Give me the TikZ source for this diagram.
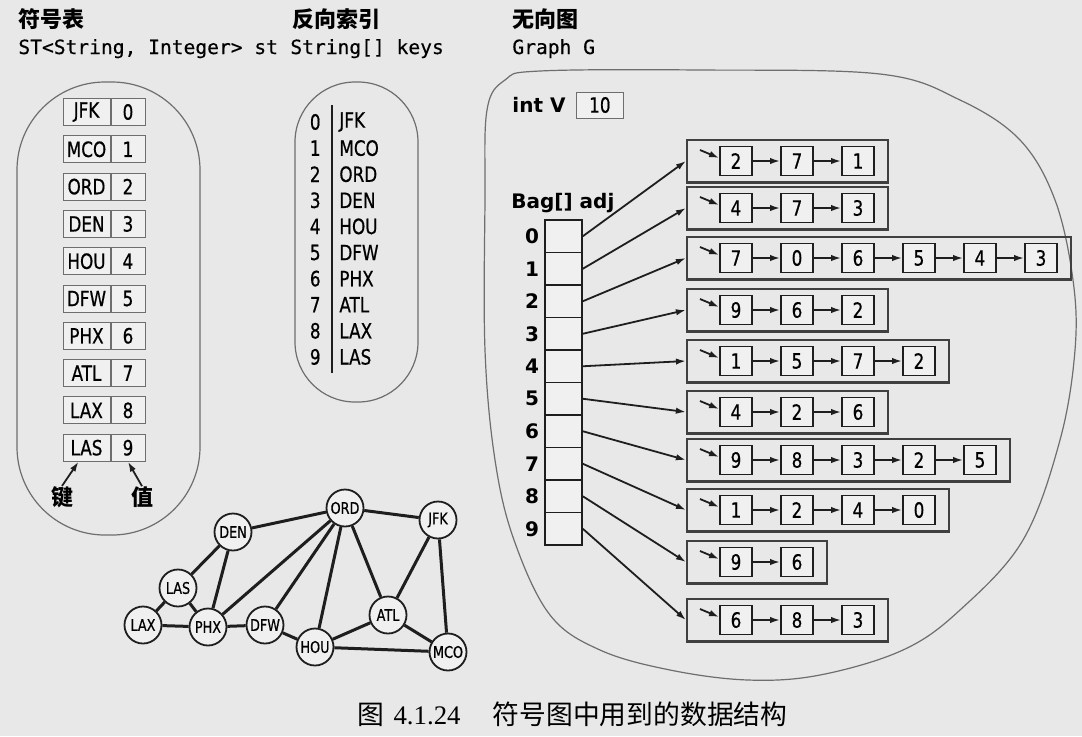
\documentclass[tikz,border=0pt]{standalone}
\usepackage{fontspec}
\usepackage{tikz}
\usetikzlibrary{positioning}
\usetikzlibrary{fit}
\usetikzlibrary{arrows.meta}

\newfontfamily\boxfont{DejaVu Sans}[FakeStretch=0.8, FakeBold=0.6]
\newfontfamily\plainfont{DejaVu Sans}
\newfontfamily\codefont{DejaVu Sans Mono}[FakeBold=0.4]
\newfontfamily\cjkfont{Noto Sans CJK SC}
\newfontfamily\capfont{Liberation Serif}

\definecolor{paper}{RGB}{232,232,232}
\definecolor{ink}{RGB}{30,30,30}
\definecolor{rim}{RGB}{110,110,110}
\definecolor{cellfill}{RGB}{240,240,240}

\tikzset{
  keycell/.style={draw=rim, fill=cellfill, line width=0.5pt, inner sep=0pt,
    minimum width=23.5pt, minimum height=13.5pt, font=\boxfont\fontsize{10.5}{12}\selectfont},
  valcell/.style={keycell, minimum width=17pt},
  idxtext/.style={inner sep=0pt, font=\boxfont\fontsize{10.5}{12}\selectfont},
  title/.style={inner sep=0pt, anchor=base west, font=\cjkfont\bfseries\fontsize{11}{13}\selectfont},
  taglbl/.style={inner sep=0pt, font=\cjkfont\bfseries\fontsize{11}{13}\selectfont},
  code/.style={inner sep=0pt, anchor=base west, font=\codefont\fontsize{9.8}{12}\selectfont},
  boldlbl/.style={inner sep=0pt, font=\plainfont\bfseries\fontsize{10}{12}\selectfont},
  arrcell/.style={draw=ink, fill=cellfill, line width=0.8pt, minimum width=18.5pt,
    minimum height=16.25pt, inner sep=0pt},
  listcell/.style={draw=ink, fill=cellfill, line width=0.9pt, minimum width=16pt,
    minimum height=14.5pt, inner sep=0pt, font=\boxfont\fontsize{10.5}{12}\selectfont},
  listbox/.style={draw=ink!85, line width=1.1pt, inner xsep=6.5pt, inner ysep=3pt},
  ptr/.style={draw=ink, line width=0.9pt, -{Latex[length=5pt, width=3.2pt]}},
  airport/.style={circle, draw=ink, fill=cellfill, line width=0.9pt, minimum size=18.5pt,
    inner sep=0pt, font=\boxfont\fontsize{8}{9}\selectfont},
  route/.style={draw=ink, line width=1.5pt},
  blob/.style={draw=rim, line width=0.6pt},
}

\begin{document}
\begin{tikzpicture}[x=0.5pt, y=-0.5pt]
  \fill[paper] (0,0) rectangle (1082,736);
  \useasboundingbox (0,0) rectangle (1082,736);

  % titles
  \node[title] (sttitle) at (18,27) {符号表};
  \node[title] (keystitle) at (292,27) {反向索引};
  \node[title] (gtitle) at (512,27) {无向图};
  \node[code] (stdecl) at (18,54) {ST<String, Integer> st};
  \node[code] (keysdecl) at (290,54) {String[] keys};
  \node[code] (gdecl) at (512,54) {Graph G};

  % outlines
  \draw[blob, rounded corners=44pt] (17,82) rectangle (200,535);
  \draw[blob, rounded corners=30pt] (295,82) rectangle (418,402);
  \draw[blob] plot[smooth cycle, tension=0.6] coordinates {(487,110) (505,80) (540,71)
    (700,70) (880,74) (960,100) (1020,140) (1055,200) (1073,280) (1075,350) (1060,440)
    (1023,540) (960,610) (903,650) (820,675) (748,680) (670,670) (600,650) (550,615)
    (514,540) (495,460) (485,350) (485,200)};

  % symbol table
  \foreach \name [count=\i from 0] in {JFK,MCO,ORD,DEN,HOU,DFW,PHX,ATL,LAX,LAS} {
    \node[keycell] (key\i) at (86.5, {112+37.3*\i}) {\name};
    \node[valcell, right=0pt of key\i] (val\i) {\i};
  }
  \node[taglbl] (keytag) at (62,497) {键};
  \node[taglbl] (valtag) at (142,497) {值};
  \draw[ptr] (keytag.north) -- ([xshift=-4pt]key9.south);
  \draw[ptr] (valtag.north) -- (val9.south);

  % inverted index
  \foreach \name [count=\i from 0] in {JFK,MCO,ORD,DEN,HOU,DFW,PHX,ATL,LAX,LAS} {
    \node[idxtext, anchor=east] (num\i) at (321, {122+26.1*\i}) {\i};
    \node[idxtext, anchor=west] (name\i) at (339, {122+26.1*\i}) {\name};
  }
  \draw[ink, line width=0.9pt] (332,105) -- (332,373);

  % graph object
  \node[boldlbl, anchor=west] (intv) at (512,105) {int V};
  \node[valcell, right=5pt of intv, minimum width=23.5pt, minimum height=13pt] (vcount) {10};
  \node[boldlbl, anchor=west] (bag) at (511,203) {Bag[] adj};
  \foreach \i in {0,...,9} {
    \node[arrcell] (adj\i) at (563.5, {236.25+32.5*\i}) {};
    \node[boldlbl] (row\i) at (532, {236.25+32.5*\i}) {\i};
  }

  % adjacency lists
  \foreach \i/\yy/\n/\items in {0/161/3/{2,7,1}, 1/208/3/{4,7,3}, 2/258/6/{7,0,6,5,4,3},
      3/310/3/{9,6,2}, 4/361/4/{1,5,7,2}, 5/412/3/{4,2,6}, 6/460/5/{9,8,3,2,5},
      7/510/4/{1,2,4,0}, 8/562/2/{9,6}, 9/620/3/{6,8,3}} {
    \foreach \v [count=\k] in \items
      \node[listcell] (n\i-\k) at ({736+61*(\k-1)}, \yy) {\v};
    \coordinate (head\i) at (700, {\yy-11});
    \node[listbox, fit=(head\i)(n\i-1)(n\i-\n)] (list\i) {};
    \draw[ptr] (head\i) -- ([yshift=1.5pt]n\i-1.west);
    \foreach \k in {2,...,\n} {
      \pgfmathtruncatemacro\prev{\k-1}
      \draw[ptr] (n\i-\prev) -- (n\i-\k);
    }
    \draw[ptr] (adj\i.east) -- (list\i.west);
  }

  % the routes
  \foreach \code/\px/\py in {ORD/345/508, JFK/438/520, DEN/233/532, LAS/178/588,
      LAX/143/625, PHX/208/627, DFW/265/625, HOU/315/647, ATL/388/615, MCO/448/652}
    \node[airport] (\code) at (\px,\py) {\code};
  \foreach \a/\b in {ORD/JFK, ORD/DEN, ORD/PHX, ORD/DFW, ORD/HOU, ORD/ATL, DEN/LAS,
      DEN/PHX, LAS/LAX, LAS/PHX, LAX/PHX, PHX/DFW, DFW/HOU, HOU/ATL, HOU/MCO,
      ATL/MCO, ATL/JFK, JFK/MCO}
    \draw[route] (\a) -- (\b);

  % caption
  \node[anchor=base west, inner sep=0pt, font=\fontsize{13.4}{15}\selectfont] (caption)
    at (357,724) {{\cjkfont 图}\hspace{0.35em}{\capfont 4.1.24}\hspace{1.2em}{\cjkfont 符号图中用到的数据结构}};
\end{tikzpicture}
\end{document}
